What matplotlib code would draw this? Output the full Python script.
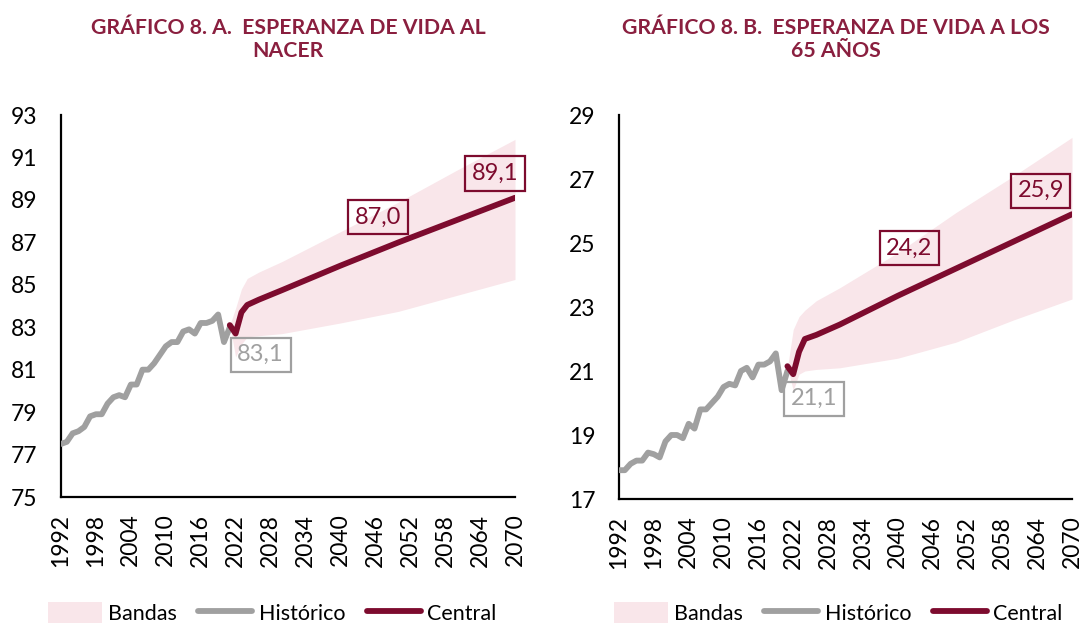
import matplotlib
matplotlib.use("Agg")
import matplotlib.pyplot as plt
from matplotlib.patches import Patch
from matplotlib.lines import Line2D

plt.rcParams['font.family'] = ['Lato', 'DejaVu Sans']

# ---------------- data ----------------
hist_years = list(range(1992, 2022))
# Chart A: life expectancy at birth (historical)
hist_birth = [77.5, 77.6, 78.0, 78.1, 78.3, 78.8, 78.9, 78.9, 79.4, 79.7,
              79.8, 79.7, 80.3, 80.3, 81.0, 81.0, 81.3, 81.7, 82.1, 82.3,
              82.3, 82.8, 82.9, 82.7, 83.2, 83.2, 83.3, 83.6, 82.3, 83.0]
# Chart B: life expectancy at 65 (historical)
hist_65 = [17.9, 17.9, 18.1, 18.2, 18.2, 18.45, 18.4, 18.3, 18.8, 19.0,
           19.0, 18.9, 19.35, 19.2, 19.8, 19.8, 20.0, 20.2, 20.5, 20.6,
           20.55, 21.0, 21.1, 20.8, 21.2, 21.2, 21.3, 21.55, 20.4, 21.0]

proj_years = [2021, 2022, 2023, 2024, 2026, 2030, 2040, 2050, 2060, 2070]
central_birth = [83.1, 82.7, 83.7, 84.05, 84.3, 84.75, 85.9, 87.0, 88.05, 89.1]
lower_birth = [83.1, 81.6, 82.2, 82.55, 82.6, 82.7, 83.2, 83.75, 84.5, 85.25]
upper_birth = [83.1, 83.9, 84.8, 85.3, 85.6, 86.1, 87.5, 88.9, 90.4, 91.85]

central_65 = [21.15, 20.9, 21.6, 22.0, 22.13, 22.45, 23.35, 24.2, 25.05, 25.9]
lower_65 = [21.1, 20.4, 20.9, 21.0, 21.05, 21.1, 21.4, 21.9, 22.6, 23.25]
upper_65 = [21.1, 22.3, 22.7, 22.9, 23.2, 23.6, 24.7, 25.95, 27.1, 28.3]

tick_years = list(range(1992, 2071, 6))

# label values and their box positions
labels_birth = [("83,1", 2026.3, 81.7, "hist"), ("87,0", 2046.5, 88.18, "cent"),
                ("89,1", 2066.6, 90.24, "cent")]
labels_65 = [("21,1", 2025.6, 20.13, "hist"), ("24,2", 2042.0, 24.84, "cent"),
             ("25,9", 2064.6, 26.63, "cent")]

titles = ["GRÁFICO 8. A.  ESPERANZA DE VIDA AL\nNACER",
          "GRÁFICO 8. B.  ESPERANZA DE VIDA A LOS\n65 AÑOS"]

# ---------------- style ----------------
C_CENT = "#7D0B2E"
C_HIST = "#A0A0A0"
C_BAND = "#F9E6EA"
C_TITLE = "#8A1F3F"

fig = plt.figure(figsize=(10.82, 6.26), dpi=100)
W, H = 1082, 626
ax1 = fig.add_axes([61 / W, (H - 497) / H, (515 - 61) / W, (497 - 115) / H])
ax2 = fig.add_axes([619 / W, (H - 499) / H, (1072 - 619) / W, (499 - 115) / H])

configs = [
    (ax1, hist_birth, central_birth, lower_birth, upper_birth, (75, 93), labels_birth, titles[0], 288),
    (ax2, hist_65, central_65, lower_65, upper_65, (17, 29), labels_65, titles[1], 836),
]

for ax, hist, cent, lo, up, ylim, labels, title, tx in configs:
    ax.fill_between(proj_years, lo, up, color=C_BAND, lw=0, zorder=1)
    ax.plot(hist_years, hist, color=C_HIST, lw=4.2, solid_capstyle='round',
            solid_joinstyle='round', zorder=3)
    ax.plot(proj_years, cent, color=C_CENT, lw=4.2, solid_capstyle='round',
            solid_joinstyle='round', zorder=4)
    ax.set_xlim(1992, 2070)
    ax.set_ylim(*ylim)
    ax.set_yticks(range(ylim[0], ylim[1] + 1, 2))
    ax.set_xticks(tick_years)
    ax.set_xticklabels([str(y) for y in tick_years], rotation=90)
    ax.tick_params(axis='both', length=0, labelsize=16.5, colors='black')
    ax.tick_params(axis='y', pad=17)
    ax.tick_params(axis='x', pad=12)
    for s in ['top', 'right']:
        ax.spines[s].set_visible(False)
    for s in ['left', 'bottom']:
        ax.spines[s].set_linewidth(1.6)
        ax.spines[s].set_color('black')
    for txt, x, y, kind in labels:
        col = C_HIST if kind == "hist" else C_CENT
        ax.text(x, y, txt, ha='center', va='center', fontsize=17, color=col, zorder=5,
                bbox=dict(boxstyle='square,pad=0.28', fc='none', ec=col, lw=1.6))
    fig.text(tx / W, 1 - 39.5 / H, title, ha='center', va='center', fontsize=15.3,
             fontweight='bold', color=C_TITLE, linespacing=1.15)

handles = [Patch(facecolor=C_BAND, edgecolor='none'),
           Line2D([], [], color=C_HIST, lw=4.2, solid_capstyle='round'),
           Line2D([], [], color=C_CENT, lw=4.2, solid_capstyle='round')]
names = ["Bandas", "Histórico", "Central"]
for cx in [272, 838]:
    fig.legend(handles, names, loc='center', bbox_to_anchor=(cx / W, (H - 613) / H),
               ncol=3, frameon=False, fontsize=15.5, handlelength=2.5, handletextpad=0.3,
               columnspacing=1.0, handleheight=1.1, borderaxespad=0, borderpad=0)

fig.savefig("out.png", dpi=100)
